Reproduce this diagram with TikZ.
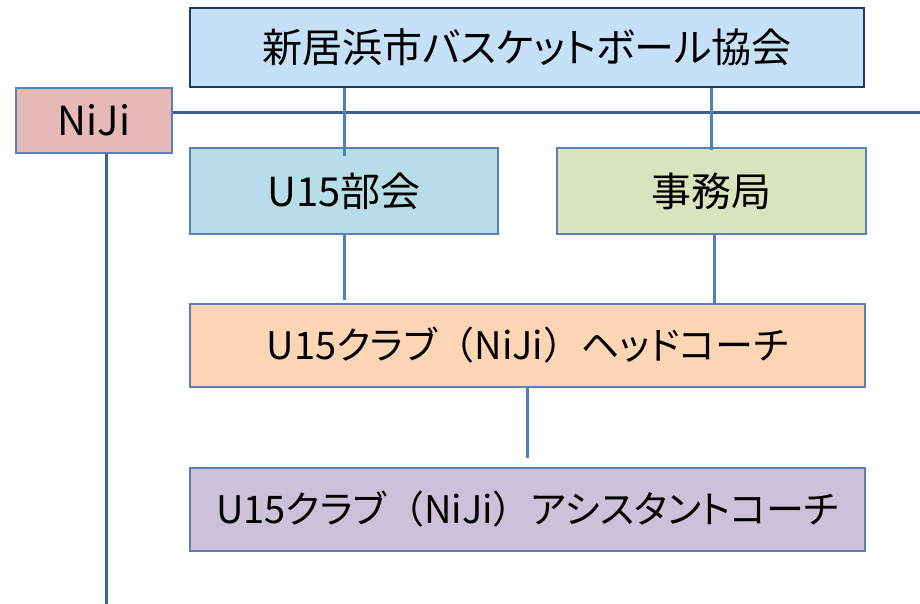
\documentclass[tikz,border=0pt]{standalone}
\usepackage{fontspec}
\setmainfont{Noto Sans CJK JP}[RawFeature=+palt]
\newfontfamily\fullw{Noto Sans CJK JP}
\usepackage{tikz}

\definecolor{kyokaiblue}{HTML}{C6E0F8}
\definecolor{nijipink}{HTML}{E6B8B7}
\definecolor{bukaicyan}{HTML}{B7DEE8}
\definecolor{jimugreen}{HTML}{D7E4BD}
\definecolor{headpeach}{HTML}{FCD5B5}
\definecolor{assistlilac}{HTML}{CCC1DA}
\definecolor{navyline}{HTML}{203864}
\definecolor{boxline}{HTML}{5A80B4}
\definecolor{linkblue}{HTML}{4F81BD}
\definecolor{nijiline}{HTML}{3D6090}

\tikzset{
  orgbox/.style={draw=boxline,line width=1.5pt,rectangle,inner sep=0pt,
    font=\fontsize{40}{48}\selectfont},
  clubbox/.style={orgbox,font=\fontsize{38}{46}\selectfont,
    minimum width=675pt,minimum height=83pt},
  link/.style={linkblue,line width=3pt},
  nijilink/.style={nijiline,line width=3pt}
}

\begin{document}
\begin{tikzpicture}[x=1pt,y=-1pt]
\useasboundingbox (0,0) rectangle (920,604);
\node[orgbox,draw=navyline,line width=2pt,fill=kyokaiblue,minimum width=674pt,minimum height=79pt]
  (kyokai) at (527,47.5) {新居浜市バスケットボール協会};
\node[orgbox,fill=nijipink,minimum width=156pt,minimum height=65pt]
  (niji) at (94,120.5) {NiJi};
\node[orgbox,fill=bukaicyan,minimum width=308pt,minimum height=86pt]
  (bukai) at (344,191) {U15部会};
\node[orgbox,fill=jimugreen,minimum width=309pt,minimum height=86pt]
  (jimu) at (711.5,191) {事務局};
\node[clubbox,fill=headpeach] (head) at (527.5,345.5)
  {U15クラブ{\fullw （}NiJi{\fullw ）}ヘッドコーチ};
\node[clubbox,fill=assistlilac] (assist) at (527.5,509.5)
  {U15クラブ{\fullw （}NiJi{\fullw ）}アシスタントコーチ};

\coordinate (rightend) at (920,113);
\coordinate (bottomend) at (106,604);
\draw[nijilink] (niji.east |- rightend) -- (rightend);
\draw[nijilink] (niji.south -| bottomend) -- (bottomend);

\draw[link] (bukai.north |- kyokai.south) -- ([yshift=-9pt]bukai.north);
\draw[link] (jimu.north |- kyokai.south) -- ([yshift=-3pt]jimu.north);
\draw[link] (bukai.south) -- ([yshift=3pt]bukai.south |- head.north);
\draw[link] ([xshift=3pt]jimu.south) -- ([xshift=3pt]jimu.south |- head.north);
\draw[link] (head.south) -- ([yshift=9pt]assist.north);
\end{tikzpicture}
\end{document}
